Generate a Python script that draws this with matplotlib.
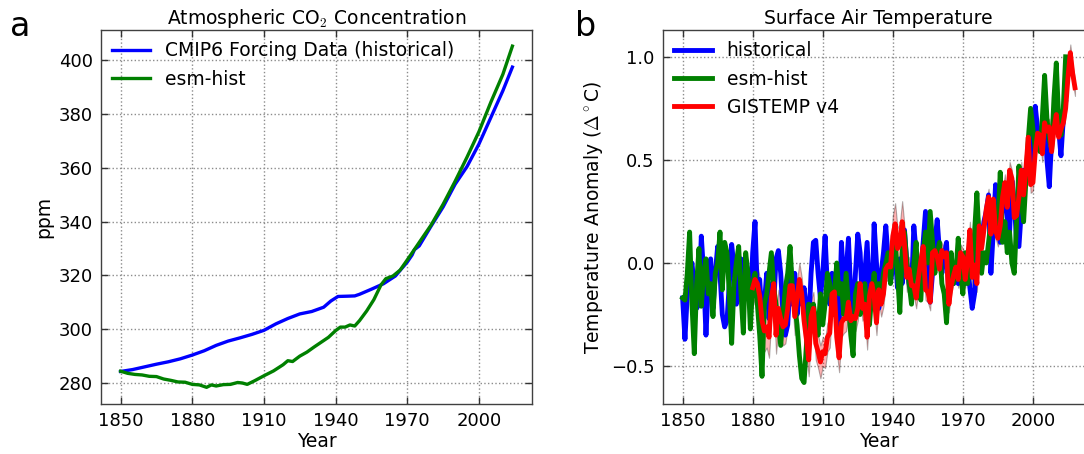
import matplotlib
matplotlib.use("Agg")
import matplotlib.pyplot as plt
import numpy as np

# ---------------- data ----------------
co2_hist_years = [1850, 1855, 1860, 1865, 1870, 1875, 1880, 1885, 1890, 1895,
                  1900, 1905, 1910, 1915, 1920, 1925, 1930, 1935, 1938, 1941,
                  1945, 1948, 1950, 1955, 1960, 1965, 1970, 1972, 1973, 1975,
                  1980, 1985, 1990, 1995, 2000, 2005, 2010, 2014]
co2_hist = [284.3, 285.0, 286.0, 287.0, 287.9, 289.0, 290.4, 292.0, 294.0, 295.6,
            296.8, 298.1, 299.6, 302.0, 304.0, 305.7, 306.6, 308.2, 310.5, 312.2,
            312.3, 312.4, 313.0, 314.9, 316.9, 319.8, 325.0, 327.6, 329.6, 331.0,
            338.4, 345.5, 353.9, 360.5, 368.9, 378.8, 388.7, 397.5]

co2_esm_years = [1850, 1853, 1856, 1859, 1862, 1865, 1868, 1871, 1874, 1877,
                 1880, 1883, 1886, 1888, 1890, 1893, 1896, 1899, 1901, 1903,
                 1906, 1910, 1914, 1918, 1920, 1922, 1925, 1928, 1931, 1934,
                 1937, 1940, 1942, 1944, 1946, 1948, 1950, 1953, 1956, 1959,
                 1961, 1964, 1967, 1970, 1975, 1980, 1985, 1990, 1995, 2000,
                 2005, 2010, 2014]
co2_esm = [284.4, 283.6, 283.2, 283.0, 282.5, 282.4, 281.5, 281.0, 280.4, 280.3,
           279.5, 279.3, 278.4, 279.3, 278.9, 279.4, 279.5, 280.2, 280.0, 279.5,
           280.8, 282.7, 284.5, 286.8, 288.3, 288.0, 290.0, 291.5, 293.4, 295.2,
           297.0, 299.5, 300.8, 300.8, 301.6, 301.2, 303.2, 306.8, 311.0, 316.5,
           318.8, 319.8, 322.0, 325.8, 332.3, 338.8, 346.5, 355.0, 364.0, 373.5,
           384.5, 394.8, 405.3]

model_years = list(range(1850, 2015))
tas_historical = [
    -0.17, -0.37, -0.15, -0.05, 0.00, -0.12, -0.22, -0.20, 0.13, -0.05,   # 1850s
    -0.35, -0.10, 0.02, -0.22, -0.05, 0.08, -0.05, -0.25, -0.31, -0.28,   # 1860s
    -0.10, 0.09, -0.02, -0.20, -0.05, 0.02, -0.08, 0.01, -0.05, -0.22,    # 1870s
    0.05, 0.20, -0.15, -0.08, -0.27, -0.20, -0.05, -0.27, -0.10, -0.20,   # 1880s
    0.02, 0.06, -0.05, -0.25, -0.35, -0.30, -0.08, -0.20, -0.05, -0.25,   # 1890s
    -0.10, -0.20, -0.12, -0.22, -0.30, -0.05, 0.10, 0.11, -0.05, -0.17,   # 1900s
    -0.05, 0.13, -0.12, -0.20, -0.05, -0.25, -0.10, -0.30, 0.10, -0.10,   # 1910s
    -0.05, 0.12, -0.15, -0.25, -0.05, 0.14, 0.05, -0.20, -0.05, 0.10,     # 1920s
    -0.15, -0.20, 0.19, 0.00, -0.22, -0.05, 0.05, 0.18, 0.02, -0.09,      # 1930s
    -0.02, 0.05, -0.12, 0.02, -0.10, 0.16, 0.00, -0.10, -0.15, 0.18,      # 1940s
    0.05, -0.12, -0.05, 0.10, 0.25, 0.05, -0.19, -0.05, 0.10, 0.21,       # 1950s
    0.05, -0.05, 0.03, 0.10, -0.16, -0.05, -0.10, 0.00, -0.10, 0.05,      # 1960s
    -0.05, -0.10, 0.00, -0.12, -0.22, -0.15, 0.05, 0.15, 0.10, 0.20,      # 1970s
    0.25, 0.33, -0.05, 0.15, 0.38, 0.20, 0.10, 0.30, 0.35, 0.22,          # 1980s
    0.15, 0.40, 0.30, 0.10, 0.08, 0.25, 0.45, 0.40, 0.55, 0.45,           # 1990s
    0.60, 0.76, 0.65, 0.62, 0.55, 0.72, 0.50, 0.37, 0.60, 0.68,           # 2000s
    0.75, 0.65, 0.52, 0.70, 0.78]                                          # 2010s

tas_esm_hist = [
    -0.17, -0.18, -0.05, 0.15, -0.20, -0.44, -0.10, 0.07, -0.21, -0.05,   # 1850s
    0.02, -0.15, -0.10, -0.26, -0.05, 0.00, 0.15, -0.13, 0.10, 0.05,      # 1860s
    -0.15, -0.39, -0.10, 0.00, 0.08, -0.15, -0.34, 0.05, -0.05, -0.32,    # 1870s
    -0.10, -0.05, -0.20, -0.35, -0.55, -0.20, -0.15, -0.05, 0.05, -0.12,  # 1880s
    -0.20, -0.30, -0.40, -0.25, -0.12, -0.05, 0.08, -0.12, -0.20, -0.30,  # 1890s
    -0.45, -0.56, -0.58, -0.40, -0.20, -0.25, -0.20, -0.28, -0.35, -0.15, # 1900s
    -0.30, -0.20, -0.05, -0.10, -0.25, -0.15, 0.00, -0.15, -0.10, -0.25,  # 1910s
    -0.05, -0.20, -0.35, -0.45, -0.15, -0.10, -0.25, -0.20, -0.10, -0.25, # 1920s
    -0.30, -0.15, -0.05, -0.20, -0.10, -0.15, -0.05, 0.00, 0.05, -0.10,   # 1930s
    0.05, 0.10, -0.05, -0.24, 0.05, 0.15, 0.00, -0.10, -0.20, 0.00,       # 1940s
    0.10, -0.15, -0.18, 0.05, 0.15, 0.00, 0.25, 0.10, -0.05, 0.05,        # 1950s
    0.10, -0.10, -0.15, -0.29, -0.05, 0.05, -0.10, -0.05, 0.12, -0.05,    # 1960s
    -0.15, 0.05, -0.10, 0.00, -0.05, 0.15, 0.34, 0.10, -0.05, 0.05,       # 1970s
    0.00, 0.10, 0.20, 0.25, 0.15, 0.20, 0.44, 0.10, 0.20, 0.05,           # 1980s
    0.15, 0.00, -0.05, 0.20, 0.47, 0.30, 0.20, 0.40, 0.60, 0.75,          # 1990s
    0.65, 0.55, 0.60, 0.54, 0.70, 0.91, 0.70, 0.60, 0.55, 0.80,           # 2000s
    0.97, 0.70, 0.62, 0.75, 1.00]                                          # 2010s

gistemp_years = list(range(1880, 2019))
gistemp = [
    -0.12, -0.08, -0.10, -0.16, -0.28, -0.33, -0.31, -0.36, -0.17, -0.10,  # 1880s
    -0.35, -0.22, -0.27, -0.31, -0.30, -0.22, -0.11, -0.11, -0.26, -0.17,  # 1890s
    -0.08, -0.15, -0.28, -0.37, -0.47, -0.26, -0.22, -0.39, -0.43, -0.48,  # 1900s
    -0.43, -0.44, -0.36, -0.34, -0.15, -0.14, -0.36, -0.46, -0.29, -0.27,  # 1910s
    -0.27, -0.19, -0.28, -0.26, -0.27, -0.22, -0.10, -0.22, -0.20, -0.36,  # 1920s
    -0.16, -0.10, -0.16, -0.29, -0.13, -0.20, -0.15, -0.03, -0.01, -0.02,  # 1930s
    0.13, 0.19, 0.07, 0.09, 0.20, 0.09, -0.07, -0.03, -0.11, -0.11,        # 1940s
    -0.17, -0.07, 0.01, 0.08, -0.13, -0.14, -0.19, 0.05, 0.06, 0.03,       # 1950s
    -0.03, 0.06, 0.03, 0.05, -0.20, -0.11, -0.06, -0.02, -0.08, 0.05,      # 1960s
    0.03, -0.08, 0.01, 0.16, -0.07, -0.01, -0.10, 0.18, 0.07, 0.16,        # 1970s
    0.26, 0.32, 0.14, 0.31, 0.16, 0.12, 0.18, 0.32, 0.39, 0.27,            # 1980s
    0.45, 0.41, 0.22, 0.23, 0.32, 0.45, 0.33, 0.46, 0.61, 0.38,            # 1990s
    0.39, 0.54, 0.63, 0.62, 0.53, 0.68, 0.64, 0.66, 0.54, 0.65,            # 2000s
    0.72, 0.61, 0.65, 0.68, 0.75, 0.90, 1.02, 0.92, 0.85]                  # 2010s

gistemp_unc = [
    0.09, 0.09, 0.09, 0.09, 0.10, 0.10, 0.10, 0.10, 0.09, 0.09,  # 1880s
    0.09, 0.09, 0.09, 0.09, 0.09, 0.09, 0.09, 0.09, 0.09, 0.09,  # 1890s
    0.08, 0.08, 0.08, 0.08, 0.08, 0.08, 0.08, 0.08, 0.08, 0.08,  # 1900s
    0.07, 0.07, 0.07, 0.07, 0.07, 0.07, 0.07, 0.07, 0.07, 0.07,  # 1910s
    0.06, 0.06, 0.06, 0.06, 0.06, 0.06, 0.06, 0.06, 0.06, 0.06,  # 1920s
    0.06, 0.06, 0.06, 0.06, 0.06, 0.06, 0.06, 0.06, 0.07, 0.08,  # 1930s
    0.10, 0.10, 0.10, 0.10, 0.10, 0.09, 0.07, 0.06, 0.05, 0.05,  # 1940s
    0.05, 0.05, 0.05, 0.05, 0.05, 0.05, 0.04, 0.04, 0.04, 0.04,  # 1950s
    0.04, 0.04, 0.04, 0.04, 0.04, 0.04, 0.04, 0.04, 0.04, 0.04,  # 1960s
    0.04, 0.04, 0.04, 0.04, 0.04, 0.04, 0.04, 0.04, 0.04, 0.04,  # 1970s
    0.04, 0.04, 0.04, 0.04, 0.04, 0.04, 0.04, 0.04, 0.04, 0.04,  # 1980s
    0.04, 0.04, 0.04, 0.04, 0.04, 0.04, 0.04, 0.04, 0.04, 0.04,  # 1990s
    0.04, 0.04, 0.04, 0.04, 0.04, 0.04, 0.04, 0.04, 0.04, 0.04,  # 2000s
    0.04, 0.04, 0.04, 0.04, 0.04, 0.04, 0.04, 0.04, 0.04]        # 2010s

year_ticks = [1850, 1880, 1910, 1940, 1970, 2000]
co2_ticks = [280, 300, 320, 340, 360, 380, 400]
tas_ticks = [-0.5, 0.0, 0.5, 1.0]

# ---------------- style ----------------
plt.rcParams['font.family'] = ['DejaVu Sans']
plt.rcParams['mathtext.fontset'] = 'cm'
FS = 13.5      # titles, labels, legend
TFS = 13.0     # tick labels

fig = plt.figure(figsize=(10.84, 4.54), dpi=100)
W, H = 1084.0, 454.0
ax1 = fig.add_axes([101 / W, (H - 404) / H, 431 / W, 374 / H])
ax2 = fig.add_axes([663 / W, (H - 404) / H, 431.6 / W, 374 / H])


def style(ax):
    ax.grid(True, color='0.55', linestyle=':', linewidth=1.0)
    ax.set_axisbelow(True)
    ax.tick_params(direction='in', length=5, width=1, top=True, right=True,
                   labelsize=TFS, color='0.2', pad=6)
    for s in ax.spines.values():
        s.set_linewidth(1.0)
        s.set_color('0.25')


def add_legend(ax):
    ax.legend(loc='upper left', frameon=False, fontsize=FS, handlelength=2.0,
              handletextpad=0.8, labelspacing=0.5, borderaxespad=0.35,
              borderpad=0.25)


# ---- panel a ----
ax1.plot(co2_hist_years, co2_hist, color='b', lw=2.4,
         label='CMIP6 Forcing Data (historical)')
ax1.plot(co2_esm_years, co2_esm, color='g', lw=2.4, label='esm-hist')
ax1.set_xlim(1841.8, 2022.2)
ax1.set_ylim(272.2, 411.3)
ax1.set_xticks(year_ticks)
ax1.set_yticks(co2_ticks)
style(ax1)
ax1.set_xlabel('Year', fontsize=FS, labelpad=1)
ax1.set_ylabel('ppm', fontsize=FS)
ax1.set_title(r'Atmospheric CO$_2$ Concentration', fontsize=FS, pad=4)
add_legend(ax1)

# ---- panel b ----
ax2.plot(model_years, tas_historical, color='b', lw=3.5, label='historical')
ax2.plot(model_years, tas_esm_hist, color='g', lw=3.5, label='esm-hist')
g = np.array(gistemp)
u = np.array(gistemp_unc)
ax2.fill_between(gistemp_years, g - u, g + u, facecolor='r', edgecolor='k',
                 alpha=0.3, linewidth=0.8)
ax2.plot(gistemp_years, gistemp, color='r', lw=3.5, label='GISTEMP v4')
ax2.set_xlim(1841.6, 2026.4)
ax2.set_ylim(-0.684, 1.13)
ax2.set_xticks(year_ticks)
ax2.set_yticks(tas_ticks)
style(ax2)
ax2.set_xlabel('Year', fontsize=FS, labelpad=1)
ax2.set_ylabel(r'Temperature Anomaly ($\Delta^\circ$C)', fontsize=FS)
ax2.set_title('Surface Air Temperature', fontsize=FS, pad=4)
add_legend(ax2)

fig.text(10 / W, (H - 36) / H, 'a', fontsize=24)
fig.text(575 / W, (H - 36) / H, 'b', fontsize=24)

fig.savefig('out.png', dpi=100)
